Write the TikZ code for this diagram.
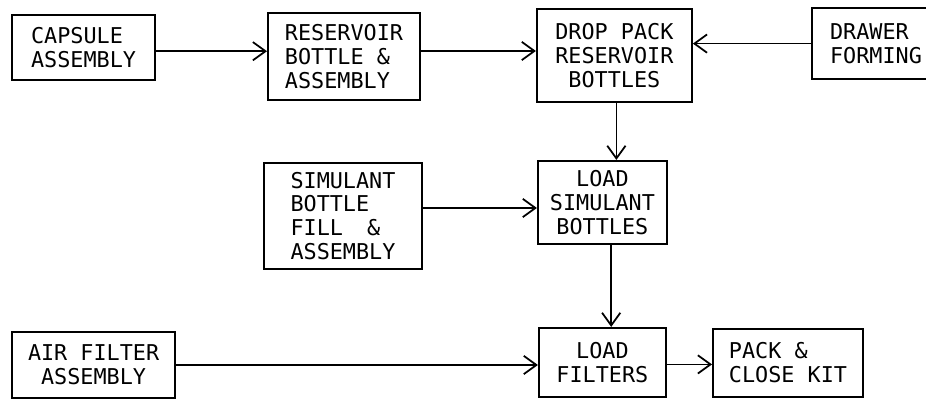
\documentclass[tikz,border=0pt]{standalone}
\usepackage{fontspec}
\setmonofont{DejaVu Sans Mono}
\usepackage{tikz}
\usetikzlibrary{
  arrows.meta,
  positioning,
  calc
}
\tikzset{
  stepbox/.style={draw, line width=1.4pt, inner sep=2pt,
    font=\ttfamily\fontsize{15.5}{17}\selectfont},
  arr/.style={-{Straight Barb[length=9pt, width=13pt]}, line width=1.25pt},
}

\begin{document}
\begin{tikzpicture}
  % frame of the page
  \useasboundingbox (0,0) rectangle (23.15,-10);

  % top row
  \node[stepbox, align=left, minimum width=3.575cm, minimum height=1.625cm]
    (capsule) at (2.09,-1.19) {CAPSULE\\ASSEMBLY};
  \node[stepbox, align=left, minimum width=3.8cm, minimum height=2.175cm]
    (resbottle) at (8.6,-1.41) {RESERVOIR\\BOTTLE \&\\ASSEMBLY};
  \node[stepbox, align=center, minimum width=3.875cm, minimum height=2.325cm]
    (droppack) at (15.36,-1.39) {DROP PACK\\RESERVOIR\\BOTTLES};
  \node[stepbox, align=left, minimum width=3.2cm, minimum height=1.775cm]
    (drawer) at (21.9,-1.09) {DRAWER\\FORMING};

  % middle row
  \node[stepbox, align=left, minimum width=3.95cm, minimum height=2.65cm]
    (simfill) at (8.575,-5.4) {SIMULANT\\BOTTLE\\FILL\hspace{0.5em} \&\\ASSEMBLY};
  \node[stepbox, align=center, minimum width=3.225cm, minimum height=2.075cm]
    (loadsim) at (15.06,-5.06) {LOAD\\SIMULANT\\BOTTLES};

  % bottom row
  \node[stepbox, align=center, minimum width=4.075cm, minimum height=1.65cm]
    (airfilter) at (2.34,-9.125) {AIR FILTER\\ASSEMBLY};
  \node[stepbox, align=center, minimum width=3.175cm, minimum height=1.725cm]
    (loadfil) at (15.06,-9.06) {LOAD\\FILTERS};
  \node[stepbox, align=left, minimum width=3.75cm, minimum height=1.7cm]
    (packkit) at (19.7,-9.075) {PACK \&\\CLOSE KIT};

  % Arrows
  \draw[arr] ([yshift=-0.09cm]capsule.east) -- ([yshift=-0.09cm]capsule.east -| resbottle.west);
  \draw[arr] ([yshift=0.135cm]resbottle.east) -- ([yshift=0.135cm]resbottle.east -| droppack.west);
  \draw[arr] (drawer.west) -- (drawer.west -| droppack.east);
  \draw[arr] ([xshift=0.05cm]droppack.south) -- ([xshift=0.05cm]droppack.south |- loadsim.north);
  \draw[arr] ([yshift=0.2cm]simfill.east) -- ([yshift=0.2cm]simfill.east -| loadsim.west);
  \draw[arr] ([xshift=0.22cm]loadsim.south) -- ([xshift=0.22cm]loadsim.south |- loadfil.north);
  \draw[arr] (airfilter.east) -- (airfilter.east -| loadfil.west);
  \draw[arr] ([yshift=-0.05cm]loadfil.east) -- ([yshift=-0.05cm]loadfil.east -| packkit.west);
\end{tikzpicture}
\end{document}
